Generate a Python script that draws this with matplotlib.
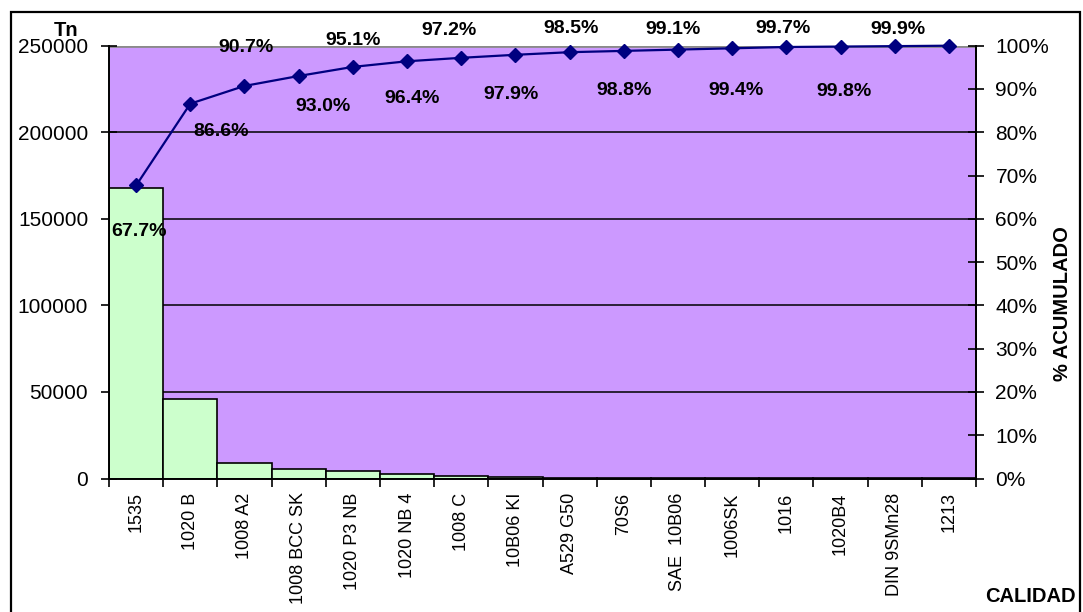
import matplotlib
matplotlib.use("Agg")
import matplotlib.pyplot as plt
from matplotlib.patches import Rectangle
from matplotlib.ticker import FuncFormatter, FixedLocator

# Production by steel grade (tonnes) and cumulative share (%)
grades = ["1535", "1020 B", "1008 A2", "1008 BCC SK", "1020 P3 NB", "1020 NB 4",
          "1008 C", "10B06 KI", "A529 G50", "70S6", "SAE  10B06", "1006SK",
          "1016", "1020B4", "DIN 9SMn28", "1213"]
tonnes = [167700, 45900, 9100, 5650, 4500, 2400, 1600, 1000,
          300, 250, 200, 150, 120, 100, 80, 60]
cum_pct = [67.7, 86.6, 90.7, 93.0, 95.1, 96.4, 97.2, 97.9,
           98.5, 98.8, 99.1, 99.4, 99.7, 99.8, 99.9, 100.0]
pct_ticks = [0, 10, 20, 30, 40, 50, 60, 70, 80, 90, 100]
ton_ticks = [0, 50000, 100000, 150000, 200000, 250000]

# label offsets (pixels, x right / y down) from each marker; last point unlabeled
label_offsets = [(3, 46), (31, 28), (2, -38), (24, 31), (0, -26), (5, 37),
                 (-12, -27), (-4, 40), (1, -24), (0, 40), (-5, -20), (4, 42),
                 (-3, -18), (3, 45), (3, -17)]

W, H = 1083, 612
fig = plt.figure(figsize=(W / 100, H / 100), dpi=100)
plt.rcParams["font.family"] = ["Liberation Sans", "DejaVu Sans"]

left, right, top, bottom = 109, 976, 45.7, 478.5
ax = fig.add_axes([left / W, 1 - bottom / H, (right - left) / W, (bottom - top) / H])
ax.set_facecolor("#CC99FF")

x = list(range(len(grades)))
ax.bar(x, tonnes, width=1.0, color="#CCFFCC", edgecolor="black", linewidth=1.2, zorder=2)
ax.set_xlim(-0.5, len(grades) - 0.5)
ax.set_ylim(0, 250000)

ax.set_yticks(ton_ticks)
ax.yaxis.grid(True, color="black", linewidth=1.1, zorder=1)
ax.set_axisbelow(True)
ax.yaxis.get_gridlines()[-1].set_color("#8a8a8a")
ax.yaxis.get_gridlines()[-1].set_linewidth(2)
ax.tick_params(axis="y", direction="inout", length=12, width=1.2, labelsize=15, pad=9)

ax.set_xticks(x)
ax.set_xticklabels(grades, rotation=90, fontsize=13)
ax.tick_params(axis="x", length=0, pad=10)
ax.xaxis.set_minor_locator(FixedLocator([i - 0.5 for i in range(len(grades) + 1)]))
ax.tick_params(axis="x", which="minor", direction="out", length=6, width=1.2)

ax.spines["top"].set_visible(False)
for s in ["left", "right", "bottom"]:
    ax.spines[s].set_linewidth(1.4)

ax2 = ax.twinx()
ax2.set_ylim(0, 1)
ax2.set_yticks([p / 100 for p in pct_ticks])
ax2.yaxis.set_major_formatter(FuncFormatter(lambda v, _: f"{v * 100:.0f}%"))
ax2.tick_params(axis="y", direction="inout", length=12, width=1.2, labelsize=15, pad=8)
for s in ["top", "left", "bottom"]:
    ax2.spines[s].set_visible(False)
ax2.spines["right"].set_linewidth(1.4)

ax2.plot(x, [p / 100 for p in cum_pct], color="#000080", linewidth=1.6,
         marker="D", markersize=7, markerfacecolor="#000080",
         markeredgecolor="#000080", zorder=5, clip_on=False)

for i, (dx, dy) in enumerate(label_offsets):
    ax2.annotate(f"{cum_pct[i]:.1f}%", xy=(x[i], cum_pct[i] / 100),
                 xytext=(dx * 0.72, -dy * 0.72), textcoords="offset points",
                 ha="center", va="center", fontsize=14, fontweight="bold",
                 annotation_clip=False, zorder=6)

fig.text(1062 / W, 1 - 304 / H, "% ACUMULADO", rotation=90, ha="center", va="center",
         fontsize=14.5, fontweight="bold")
fig.text(66 / W, 1 - 30 / H, "Tn", ha="center", va="center", fontsize=14.5, fontweight="bold")
fig.text(1030 / W, 1 - 597 / H, "CALIDAD", ha="center", va="center", fontsize=14.5, fontweight="bold")

fig.patches.append(Rectangle((11 / W, -0.02), (1080 - 11) / W, 1 - 12 / H + 0.02,
                             transform=fig.transFigure, fill=False,
                             edgecolor="black", linewidth=1.6, zorder=0))

fig.savefig("out.png", dpi=100, facecolor="white")
